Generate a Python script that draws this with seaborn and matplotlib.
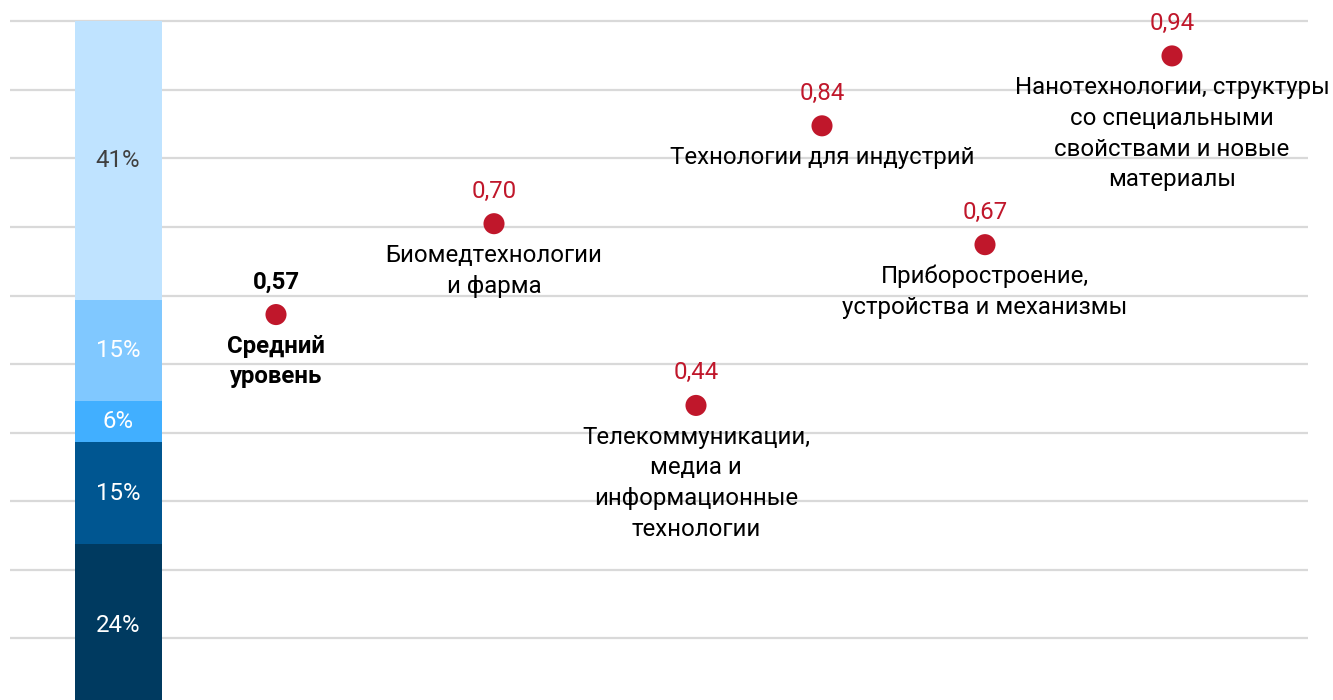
import matplotlib
matplotlib.use("Agg")
import matplotlib.pyplot as plt
import numpy as np
import pandas as pd
import seaborn as sns

# Shares of the stacked column, bottom to top
share_labels = ["24%", "15%", "6%", "15%", "41%"]
share_values = [24, 15, 6, 15, 41]

# Technology directions and their index values
directions = [
    "Средний\nуровень",
    "Биомедтехнологии\nи фарма",
    "Телекоммуникации,\nмедиа и\nинформационные\nтехнологии",
    "Технологии для индустрий",
    "Приборостроение,\nустройства и механизмы",
    "Нанотехнологии, структуры\nсо специальными\nсвойствами и новые\nматериалы",
]
index_values = [0.57, 0.70, 0.44, 0.84, 0.67, 0.94]
value_labels = ["0,57", "0,70", "0,44", "0,84", "0,67", "0,94"]

# Layout: horizontal slots (axis units = pixels of the canvas)
x_slots = [276, 494, 696, 822, 985, 1172]
bar_x, bar_w = 118, 87
share_colors = ["#003A60", "#005691", "#41AFFF", "#80C8FF", "#BFE3FF"]
share_text_colors = ["white", "white", "white", "white", "#404040"]
dot_color = "#C0172B"

sns.set_theme(style="white")
plt.rcParams["font.family"] = ["Roboto", "DejaVu Sans"]
FS = 17.3

fig = plt.figure(figsize=(13.33, 7.0), dpi=100)
ax = fig.add_axes([0, 0, 1, 1])
ax.set_xlim(0, 1333)
ax.set_ylim(0.0102, 1.031)
ax.axis("off")

# horizontal gridlines
ax.hlines(np.arange(0, 1.001, 0.1), 10, 1308, color="#D9D9D9", lw=1.6, zorder=1)

# stacked share column, normalised to the full scale
fracs = np.array(share_values, dtype=float) / sum(share_values)
bottoms = np.concatenate([[0], np.cumsum(fracs)[:-1]])
for f, b, lab, c, tc in zip(fracs, bottoms, share_labels, share_colors, share_text_colors):
    ax.bar(bar_x, f, bottom=b, width=bar_w, color=c, edgecolor="none", zorder=2)
    ax.text(bar_x, b + f / 2, lab, ha="center", va="center", color=tc, fontsize=FS, zorder=3)

# index points on a secondary scale
ax2 = ax.twinx()
ax2.set_position([0, 0, 1, 1])

df = pd.DataFrame({"x": x_slots, "value": index_values, "name": directions, "label": value_labels})
sns.scatterplot(data=df, x="x", y="value", ax=ax2, color=dot_color, s=230,
                edgecolor="none", zorder=4, legend=False)
ax2.set_xlim(0, 1333)
ax2.set_ylim(0.0186, 1.020)
ax2.axis("off")

for i, row in df.iterrows():
    bold = i == 0
    ax2.annotate(row["label"], (row["x"], row["value"]), xytext=(0, 23.5),
                 textcoords="offset points", ha="center", va="center",
                 fontsize=FS, color="black" if bold else dot_color,
                 fontweight="bold" if bold else "normal")
    ax2.annotate(row["name"], (row["x"], row["value"]), xytext=(0, -14.5),
                 textcoords="offset points", ha="center", va="top",
                 fontsize=FS, color="black", linespacing=1.43,
                 fontweight="bold" if bold else "normal")

fig.savefig("out.png", dpi=100, facecolor="white")
